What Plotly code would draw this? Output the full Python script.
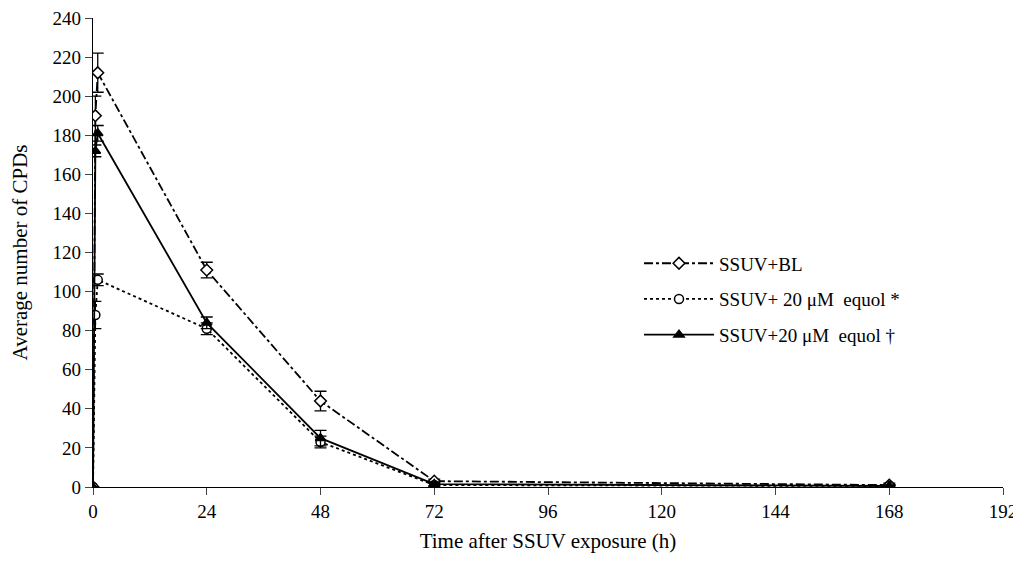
import plotly.graph_objects as go

time_h = [0, 0.5, 1, 24, 48, 72, 168]
bl_vals = [0, 190, 212, 111, 44, 3, 1]
bl_err = [0, 10, 10, 4, 5, 1, 1]
eq1_vals = [0, 88, 106, 81, 23, 1, 0.5]
eq1_err = [0, 7, 3, 3, 3, 1, 0.5]
eq2_vals = [0, 172, 181, 84, 25, 1.5, 0.5]
eq2_err = [0, 3, 4, 3, 4, 1, 0.5]
names = ["SSUV+BL", "SSUV+ 20 μM  equol *", "SSUV+20 μM  equol †"]
x_ticks = [0, 24, 48, 72, 96, 120, 144, 168, 192]
y_ticks = list(range(0, 241, 20))

font = "Liberation Serif, Times New Roman, serif"
fig = go.Figure()

def add(vals, err, name, dash, symbol, fill, group):
    fig.add_trace(go.Scatter(
        x=time_h, y=vals, name=name, mode="lines+markers", legendgroup=group,
        line=dict(color="black", width=1.8, dash=dash),
        marker=dict(symbol=symbol, size=9, color=fill, line=dict(color="black", width=1.5)),
        error_y=dict(type="data", array=err, visible=True, color="black", thickness=1.3, width=6),
    ))

add(bl_vals, bl_err, names[0], "dashdot", "diamond", "white", "a")
add(eq1_vals, eq1_err, names[1], "dot", "circle", "white", "b")
add(eq2_vals, eq2_err, names[2], "solid", "triangle-up", "black", "c")

fig.update_layout(
    width=1013, height=570,
    paper_bgcolor="white", plot_bgcolor="white",
    margin=dict(l=85, r=18, t=10, b=91, autoexpand=False),
    font=dict(family=font, size=19, color="black"),
    showlegend=True,
    legend=dict(x=0.6, y=0.40, xanchor="left", yanchor="middle",
                bgcolor="rgba(0,0,0,0)", font=dict(size=19), tracegroupgap=8,
                itemwidth=70),
)
fig.update_xaxes(range=[0, 192], tickvals=x_ticks, ticks="outside", ticklen=7, automargin=False,
                 ticklabeloverflow="allow",
                 showline=True, linecolor="black", linewidth=1.3, showgrid=False, zeroline=False,
                 title=dict(text="Time after SSUV exposure (h)", font=dict(size=21), standoff=12))
fig.update_yaxes(range=[0, 240], tickvals=y_ticks, ticks="outside", ticklen=7, automargin=False,
                 ticklabeloverflow="allow",
                 showline=True, linecolor="black", linewidth=1.3, showgrid=False, zeroline=False,
                 title=dict(text="Average number of CPDs", font=dict(size=21), standoff=22))

fig.write_html("out.html")
